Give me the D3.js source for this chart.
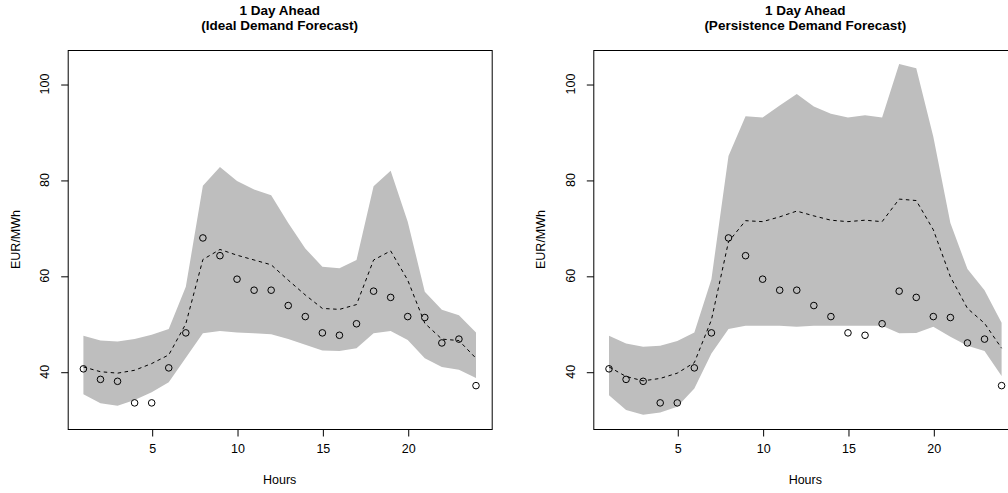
<!DOCTYPE html>
<html>
<head>
    <meta charset="utf-8">
    <title>1 Day Ahead forecasts</title>
    <script src="https://d3js.org/d3.v7.min.js"></script>
    <style>
        body { margin: 0; background: white; }
        svg { display: block; font-family: 'Liberation Sans', Arial, sans-serif; }
    </style>
</head>
<body>
<svg width="1008" height="493"></svg>

<script>
    // hours of the day
    let hours = d3.range(1, 25)

    // observed prices (circles), same in both panels
    let actual = [40.6, 38.4, 38.0, 33.5, 33.5, 40.8, 48.1, 67.9, 64.2, 59.3, 57.0, 57.0,
                  53.8, 51.5, 48.1, 47.6, 50.0, 56.8, 55.5, 51.5, 51.3, 46.0, 46.8, 37.1]

    // ideal demand forecast: median + band
    let idealMed = [41.0, 40.0, 39.7, 40.3, 41.7, 43.5, 50.0, 63.4, 65.5, 64.3, 63.3, 62.3,
                    59.1, 56.0, 53.2, 53.0, 54.0, 63.3, 65.2, 59.1, 50.1, 46.8, 46.5, 42.8]
    let idealLo = [35.3, 33.4, 32.9, 34.1, 35.7, 37.8, 42.9, 48.0, 48.5, 48.2, 48.0, 47.8,
                   46.8, 45.6, 44.4, 44.3, 44.9, 48.0, 48.5, 46.6, 42.8, 41.0, 40.4, 38.7]
    let idealHi = [47.5, 46.5, 46.3, 46.8, 47.7, 48.9, 57.7, 78.8, 82.7, 79.8, 78.0, 76.8,
                   71.0, 65.7, 61.9, 61.6, 63.3, 78.7, 81.9, 71.3, 56.7, 52.9, 51.8, 48.2]

    // persistence demand forecast: median + band
    let persMed = [41.0, 39.0, 38.1, 38.6, 39.7, 41.9, 50.8, 67.1, 71.5, 71.3, 72.3, 73.5,
                   72.5, 71.6, 71.3, 71.6, 71.3, 76.0, 75.7, 69.6, 59.8, 53.2, 50.1, 44.9]
    let persLo = [35.1, 32.0, 31.0, 31.5, 32.7, 36.5, 43.8, 48.9, 49.6, 49.6, 49.6, 49.4,
                  49.6, 49.6, 49.6, 49.6, 49.6, 48.0, 48.1, 49.4, 47.3, 45.4, 44.3, 39.1]
    let persHi = [47.5, 45.9, 45.2, 45.4, 46.4, 48.2, 59.3, 85.0, 93.3, 93.0, 95.5, 97.9,
                  95.3, 93.8, 93.0, 93.5, 93.0, 104.2, 103.3, 89.0, 71.0, 61.4, 57.0, 50.2]

    let xTicks = [5, 10, 15, 20]
    let yTicks = [40, 60, 80, 100]
    let titles = [
        ["1 Day Ahead", "(Ideal Demand Forecast)"],
        ["1 Day Ahead", "(Persistence Demand Forecast)"]
    ]

    let svg = d3.select("svg")

    let plotW = 424
    let plotTop = 50, plotBottom = 429

    // R style ranges: data range padded by 4%
    let xPad = (24 - 1) * 0.04
    let yMin = 30.98, yMax = 104.17
    let yPad = (yMax - yMin) * 0.04

    let y = d3.scaleLinear()
        .domain([yMin - yPad, yMax + yPad])
        .range([plotBottom, plotTop])

    function drawPanel(left, title, med, lo, hi) {

        let x = d3.scaleLinear()
            .domain([1 - xPad, 24 + xPad])
            .range([left, left + plotW])

        let g = svg.append("g")

        let area = d3.area()
            .x((d, i) => x(hours[i]))
            .y0((d, i) => y(lo[i]))
            .y1((d, i) => y(hi[i]))

        g.append("path")
            .attr("d", area(hours))
            .style("fill", "#bebebe")
            .style("stroke", "none")

        let line = d3.line()
            .x((d, i) => x(hours[i]))
            .y(d => y(d))

        g.append("path")
            .attr("d", line(med))
            .style("fill", "none")
            .style("stroke", "black")
            .style("stroke-width", 1)
            .style("stroke-dasharray", "3.5,3.5")

        g.selectAll(".pt")
            .data(actual)
            .join("circle")
            .attr("class", "pt")
            .attr("cx", (d, i) => x(hours[i]))
            .attr("cy", d => y(d))
            .attr("r", 3.3)
            .style("fill", "none")
            .style("stroke", "black")
            .style("stroke-width", 1)

        // box
        g.append("rect")
            .attr("x", left + 0.5)
            .attr("y", plotTop + 0.5)
            .attr("width", plotW)
            .attr("height", plotBottom - plotTop)
            .style("fill", "none")
            .style("stroke", "black")
            .style("stroke-width", 1)

        // x axis
        let xAxis = d3.axisBottom(x)
            .tickValues(xTicks)
            .tickSize(7)
            .tickPadding(8)

        g.append("g")
            .attr("transform", `translate(0.5,${plotBottom + 0.5})`)
            .call(xAxis)
            .call(a => a.select(".domain").remove())
            .call(a => a.selectAll("text")
                .attr("font-size", "12.5px")
                .attr("font-family", "'Liberation Sans', Arial, sans-serif")
                .attr("fill", "black"))

        // y axis, labels turned like R
        let yAxis = d3.axisLeft(y)
            .tickValues(yTicks)
            .tickSize(7)
            .tickFormat("")

        g.append("g")
            .attr("transform", `translate(${left + 0.5},0.5)`)
            .call(yAxis)
            .call(a => a.select(".domain").remove())

        g.selectAll(".ylab")
            .data(yTicks)
            .join("text")
            .attr("class", "ylab")
            .attr("transform", d => `translate(${left - 18.5},${y(d)}) rotate(-90)`)
            .attr("text-anchor", "middle")
            .attr("font-size", "12.5px")
            .text(d => d)

        let cx = left + plotW / 2

        g.append("text")
            .attr("x", cx).attr("y", 14.5)
            .attr("text-anchor", "middle")
            .attr("font-size", "13.5px")
            .attr("font-weight", "bold")
            .text(title[0])

        g.append("text")
            .attr("x", cx).attr("y", 29.5)
            .attr("text-anchor", "middle")
            .attr("font-size", "13.5px")
            .attr("font-weight", "bold")
            .text(title[1])

        g.append("text")
            .attr("x", cx).attr("y", 484)
            .attr("text-anchor", "middle")
            .attr("font-size", "12.5px")
            .text("Hours")

        g.append("text")
            .attr("transform", `translate(${left - 48},${(plotTop + plotBottom) / 2}) rotate(-90)`)
            .attr("text-anchor", "middle")
            .attr("font-size", "12.5px")
            .text("EUR/MWh")
    }

    drawPanel(67.7, titles[0], idealMed, idealLo, idealHi)
    drawPanel(593.3, titles[1], persMed, persLo, persHi)
</script>
</body>
</html>
